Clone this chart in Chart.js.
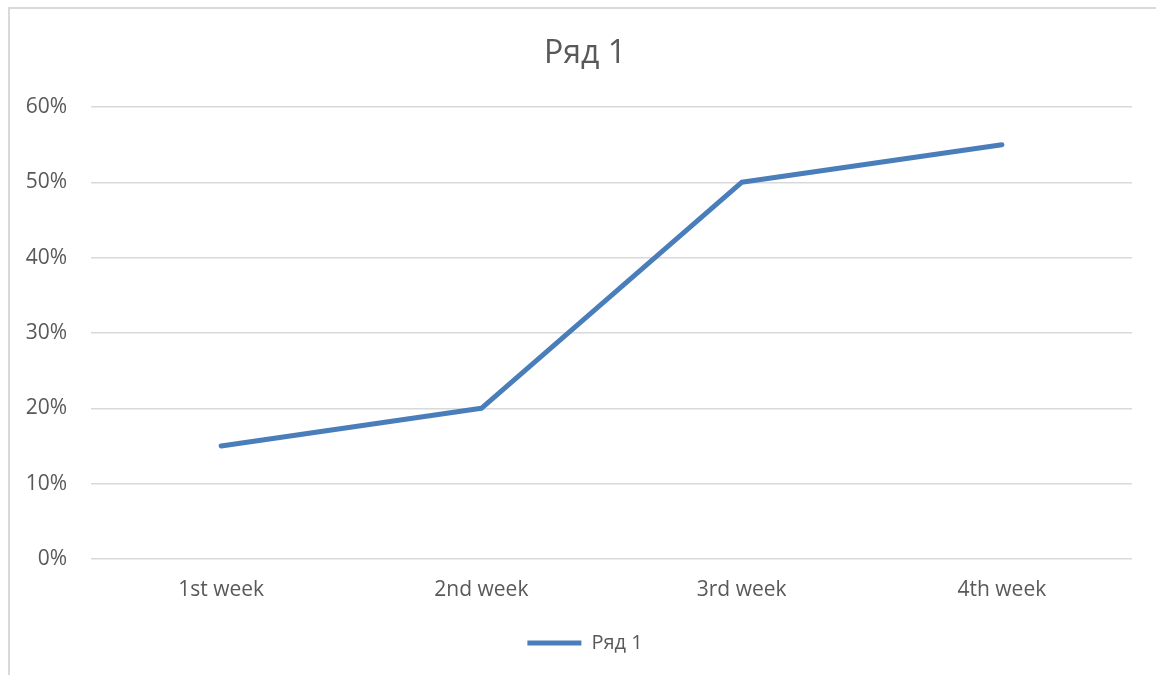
<!DOCTYPE html>
<html>
<head>
<meta charset="utf-8">
<script src="https://cdn.jsdelivr.net/npm/chart.js@4/dist/chart.umd.min.js"></script>
<style>
  html, body { margin: 0; padding: 0; background: #ffffff; }
  #wrap { position: relative; width: 1156px; height: 675px; overflow: hidden; }
  #frame { position: absolute; left: 8px; top: 7px; width: 1160px; height: 700px;
           border-left: 2px solid #d9d9d9; border-top: 2px solid #d9d9d9; box-sizing: border-box; }
  #c { position: absolute; left: 0; top: 0; }
</style>
</head>
<body>
<div id="wrap">
  <div id="frame"></div>
  <canvas id="c" width="1156" height="675"></canvas>
</div>
<script>
// Weekly share, in percent
const categories = ['1st week', '2nd week', '3rd week', '4th week'];
const seriesName = 'Ряд 1';
const seriesValues = [15, 20, 50, 55];
const yTicks = [0, 10, 20, 30, 40, 50, 60];

const textColor = '#595959';
const gridColor = '#d9d9d9';
const lineColor = '#4a7ebb';
const fontFamily = '"Open Sans", "Liberation Sans", sans-serif';

// The value axis is kept narrow so the title and legend centre on the whole frame;
// widen its label clip region back to the canvas edge so long labels are not cut.
const widenAxisLabelClip = {
  id: 'widenAxisLabelClip',
  afterLayout(chart) { chart.scales.y.left = 0; }
};

new Chart(document.getElementById('c'), {
  type: 'line',
  data: {
    labels: categories,
    datasets: [{
      label: seriesName,
      data: seriesValues,
      borderColor: lineColor,
      backgroundColor: lineColor,
      borderWidth: 5,
      borderCapStyle: 'round',
      borderJoinStyle: 'round',
      pointRadius: 0,
      pointHoverRadius: 0,
      tension: 0,
      fill: false
    }]
  },
  plugins: [widenAxisLabelClip],
  options: {
    responsive: false,
    animation: false,
    layout: { padding: { left: 38, right: 24, top: 0, bottom: 12 } },
    plugins: {
      title: {
        display: true,
        text: seriesName,
        color: textColor,
        font: { family: fontFamily, size: 32, weight: 'normal' },
        padding: { top: 35, bottom: 33.6 }
      },
      legend: {
        display: true,
        position: 'bottom',
        labels: {
          color: textColor,
          font: { family: fontFamily, size: 20 },
          usePointStyle: true,
          pointStyle: 'line',
          pointStyleWidth: 54,
          padding: 10
        }
      },
      tooltip: { enabled: false }
    },
    scales: {
      x: {
        offset: true,
        grid: { display: false, drawTicks: false },
        border: { display: false },
        ticks: {
          color: textColor,
          font: { family: fontFamily, size: 21 },
          padding: 18,
          maxRotation: 0
        },
        afterFit(scale) { scale.height = 64; }
      },
      y: {
        min: 0,
        max: 60,
        afterBuildTicks(scale) { scale.ticks = yTicks.map(v => ({ value: v })); },
        grid: { color: gridColor, lineWidth: 1.5, drawTicks: false },
        border: { display: false },
        ticks: {
          color: textColor,
          font: { family: fontFamily, size: 21 },
          padding: 24,
          callback: v => v + '%'
        },
        afterFit(scale) { scale.width = 53; }
      }
    }
  }
});
</script>
</body>
</html>
